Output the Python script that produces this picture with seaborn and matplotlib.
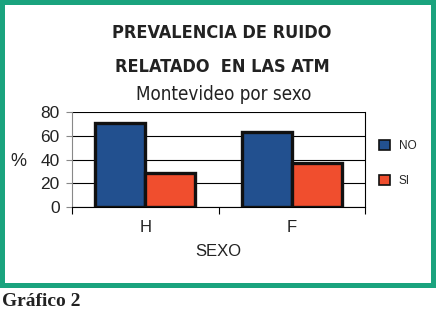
import matplotlib
matplotlib.use("Agg")
import matplotlib.pyplot as plt
from matplotlib.patches import Rectangle
import seaborn as sns
import pandas as pd

categories = ["H", "F"]
series_names = ["NO", "SI"]
no_values = [71, 63]
si_values = [29, 37]
y_ticks = [0, 20, 40, 60, 80]

sns.set_style("white")
plt.rcParams['font.family'] = ['Liberation Sans', 'DejaVu Sans']

df = pd.DataFrame({
    "SEXO": categories * 2,
    "serie": [series_names[0]] * len(categories) + [series_names[1]] * len(categories),
    "valor": no_values + si_values,
})

W, H = 436, 322
fig = plt.figure(figsize=(W / 100, H / 100), dpi=100)
fig.patch.set_facecolor("white")

green = "#1AA37E"
# green frame
fig.patches.append(Rectangle((0, 1 - 288 / H), 1, 288 / H, transform=fig.transFigure,
                             facecolor=green, edgecolor="none", zorder=-10))
fig.patches.append(Rectangle((5 / W, 1 - 283 / H), (431 - 5) / W, (283 - 5) / H,
                             transform=fig.transFigure, facecolor="white",
                             edgecolor="none", zorder=-9))

ax = fig.add_axes([72 / W, 1 - 207 / H, (365 - 72) / W, (207 - 112) / H])
ax.set_zorder(5)
ax.set_facecolor("none")
palette = {"NO": "#22508F", "SI": "#F04E2E"}
sns.barplot(data=df, x="SEXO", y="valor", hue="serie", palette=palette,
            width=0.68, edgecolor="#111111", linewidth=2.4, saturation=1,
            ax=ax, zorder=3)

ax.set_ylim(0, 80)
ax.set_xlim(-0.5, 1.5)
ax.set_yticks(y_ticks)
ax.yaxis.grid(True, color="black", linewidth=0.8, zorder=0)
ax.set_axisbelow(True)
for s in ["left", "right", "bottom"]:
    ax.spines[s].set_visible(True)
    ax.spines[s].set_color("black")
    ax.spines[s].set_linewidth(0.8)
ax.spines["top"].set_visible(False)
ax.spines["left"].set_color("#888888")

ax.tick_params(axis="y", left=True, length=4, width=0.8, color="#888888",
               labelsize=12.5, pad=5, labelcolor="#222222")
ax.set_xticks([0, 1])
ax.set_xticklabels(categories)
ax.set_xticks([-0.5, 0.5, 1.5], minor=True)
ax.tick_params(axis="x", which="major", bottom=False, labelsize=12, pad=6,
               labelcolor="#222222")
ax.tick_params(axis="x", which="minor", bottom=True, length=5, width=0.8, color="black")
ax.set_xlabel("SEXO", fontsize=12, labelpad=6, color="#222222")
ax.set_ylabel("")

handles, labels = ax.get_legend_handles_labels()
ax.legend(handles, labels, loc="center left", bbox_to_anchor=(1.027, 0.458),
          frameon=False, fontsize=8.5, borderpad=0, handlelength=0.95,
          handleheight=0.95, handletextpad=0.75, labelspacing=2.0)
for p in ax.get_legend().get_patches():
    p.set_linewidth(1.2)

fig.text(18 / W, 1 - 162 / H, "%", fontsize=13, ha="center", va="center",
         color="#222222")

title_font = ['DejaVu Sans', 'Liberation Sans']
fig.text(222 / W, 1 - 33 / H, "PREVALENCIA DE RUIDO", fontsize=13, fontweight="bold",
         fontstretch="condensed", family=title_font, ha="center", va="center",
         color="#222222")
fig.text(222 / W, 1 - 67 / H, "RELATADO  EN LAS ATM", fontsize=13, fontweight="bold",
         fontstretch="condensed", family=title_font, ha="center", va="center",
         color="#222222")
fig.text(224 / W, 1 - 94 / H, "Montevideo por sexo", fontsize=13.5,
         fontstretch="condensed", family=title_font, ha="center", va="center",
         color="#222222")

fig.text(2 / W, 1 - 306 / H, "Gráfico 2", fontsize=14, fontweight="bold",
         family=['Liberation Serif', 'DejaVu Serif'], ha="left", va="baseline",
         color="#222222")

fig.savefig("out.png", dpi=100)
